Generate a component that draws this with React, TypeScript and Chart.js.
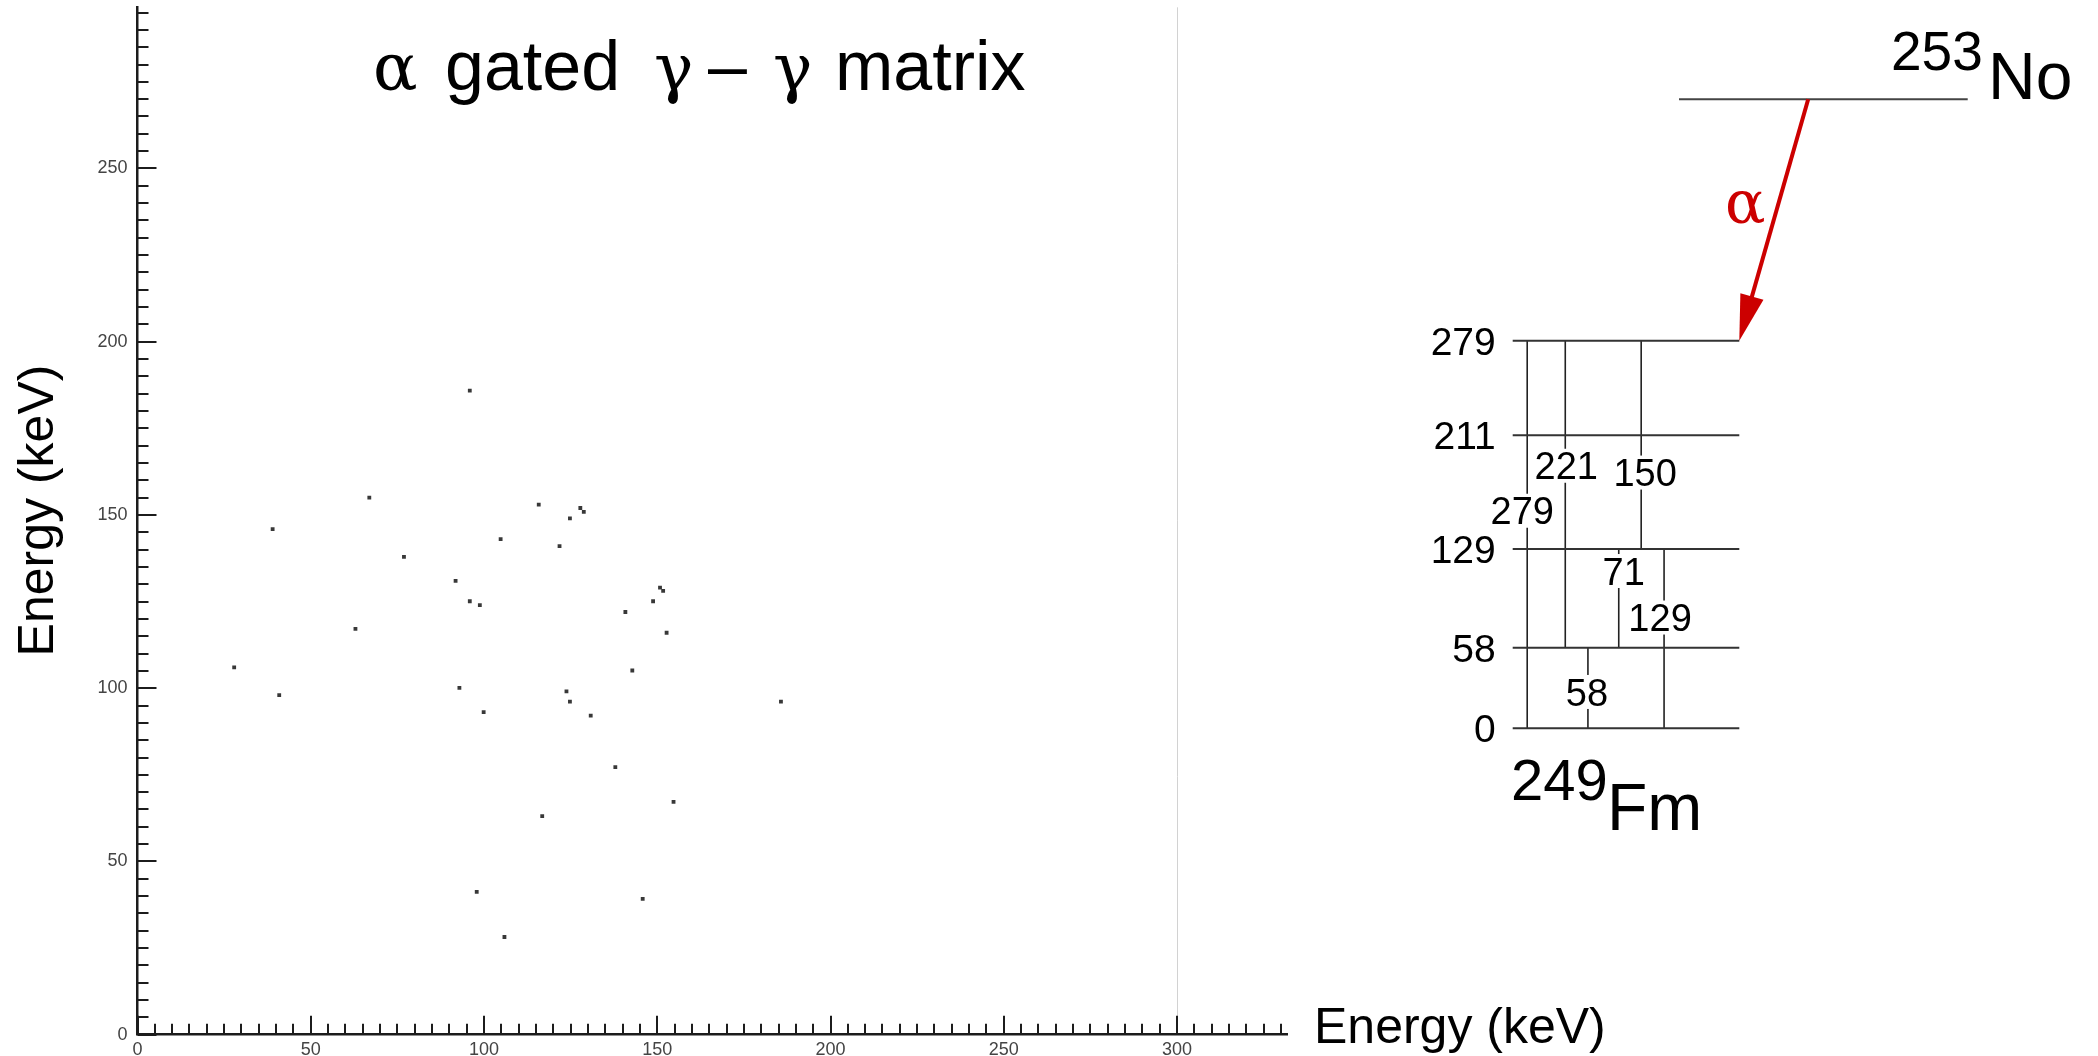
import React, { useEffect, useRef } from "react";
import { Chart, registerables } from "chart.js";

Chart.register(...registerables);

// ---------------- data ----------------
// alpha-gated gamma-gamma coincidences (keV)
const GAMMA_X_KEV = [
  95.9, 66.9, 115.8, 127.8, 128.8, 124.8, 104.8, 121.8, 76.9, 91.8, 95.9, 98.8,
  150.8, 151.7, 148.8, 140.8, 62.9, 152.7, 142.8, 92.9, 123.8, 124.8, 99.9, 130.8,
  185.7, 137.9, 154.7, 116.8, 97.9, 145.8, 105.9, 39.0, 27.9, 40.9,
];
const GAMMA_Y_KEV = [
  185.9, 155.0, 153.0, 152.0, 150.9, 149.0, 143.0, 141.0, 137.9, 131.0, 125.1, 124.0,
  129.0, 128.1, 125.1, 122.0, 117.1, 116.0, 105.1, 100.1, 99.1, 96.1, 93.1, 92.1,
  96.1, 77.2, 67.2, 63.1, 41.2, 39.2, 28.2, 145.9, 106.0, 98.0,
];

const X_TICK_LABELS = [0, 50, 100, 150, 200, 250, 300];
const Y_TICK_LABELS = [0, 50, 100, 150, 200, 250];
const MINOR_TICK_STEP = 5;
const X_LAST_TICK = 330;
const Y_LAST_TICK = 295;
const X_GRID_LINES = [300];

// level scheme of 249Fm (keV)
const LEVEL_ENERGIES = [0, 58, 129, 211, 279];
const TRANSITION_FROM = [279, 279, 58, 129, 279, 129];
const TRANSITION_TO = [0, 58, 0, 58, 129, 0];
const TRANSITION_ENERGIES = [279, 221, 58, 71, 150, 129];

const TITLE_PARTS = ["\u03b1", "gated", "\u03b3", "\u2013", "\u03b3", "matrix"];
const AXIS_TITLE = "Energy (keV)";
const PARENT_MASS = "253";
const PARENT_SYMBOL = "No";
const DAUGHTER_MASS = "249";
const DAUGHTER_SYMBOL = "Fm";
const DECAY_LABEL = "\u03b1";

// ---------------- layout ----------------
const CANVAS_W = 2098;
const CANVAS_H = 1056;
const PLOT_LEFT = 137.5;
const PLOT_BOTTOM = 1034.7;
const PX_PER_KEV = 3.465;
const X_MAX = 332;
const Y_MAX = 296.5;
const PLOT_RIGHT = PLOT_LEFT + X_MAX * PX_PER_KEV;
const PLOT_TOP = PLOT_BOTTOM - Y_MAX * PX_PER_KEV;

// scheme coordinates: horizontal units 0..100 across a level line
const SCHEME_LEFT = 1512.7;
const SCHEME_RIGHT = 1739.3;
const SCHEME_UNIT = (SCHEME_RIGHT - SCHEME_LEFT) / 100;
const SCHEME_Y0 = 728.2;
const SCHEME_PX_PER_KEV = 1.3886;

const TRANSITION_COLUMNS = [6.4, 23.2, 33.2, 46.8, 56.7, 66.8];
const TRANSITION_LABEL_AT = [156.6, 189.0, 26.1, 113.2, 184.1, 79.7];
const TRANSITION_LABEL_DX = [-5, 1, -1, 5, 4, -4];
const PARENT_LEVEL_POS = 452.9;
const PARENT_LINE_FROM = 73.4;
const PARENT_LINE_TO = 200.8;
const ALPHA_START = 130.4;

const SANS = "'Liberation Sans', Arial, sans-serif";
const SERIF = "'Liberation Serif', 'Times New Roman', serif";
const GREEK = "'DejaVu Serif', 'Liberation Serif', serif";
const AXIS_COLOR = "#1c1c1c";
const LINE_COLOR = "#333333";
const RED = "#cc0000";

function tickValues(last: number) {
  const out: { value: number }[] = [];
  for (let v = 0; v <= last; v += MINOR_TICK_STEP) out.push({ value: v });
  return out;
}

function zeroPadding(s: any) {
  s.paddingTop = 0;
  s.paddingBottom = 0;
  s.paddingLeft = 0;
  s.paddingRight = 0;
}

const tickMarksPlugin = {
  id: "tickMarks",
  afterDraw(chart: any) {
    const { ctx, chartArea } = chart;
    const x = chart.scales.x;
    const y = chart.scales.y;
    ctx.save();
    ctx.strokeStyle = AXIS_COLOR;
    ctx.lineWidth = 2;
    ctx.beginPath();
    for (const t of x.ticks) {
      const px = Math.round(x.getPixelForValue(t.value));
      const len = X_TICK_LABELS.includes(t.value) ? 19 : 11;
      ctx.moveTo(px, chartArea.bottom);
      ctx.lineTo(px, chartArea.bottom - len);
    }
    for (const t of y.ticks) {
      const py = Math.round(y.getPixelForValue(t.value));
      const len = Y_TICK_LABELS.includes(t.value) ? 19 : 11;
      ctx.moveTo(chartArea.left, py);
      ctx.lineTo(chartArea.left + len, py);
    }
    ctx.stroke();
    ctx.restore();
  },
};

const textPlugin = {
  id: "texts",
  afterDraw(chart: any) {
    const { ctx } = chart;
    const xs = chart.scales.xs;
    const ys = chart.scales.ys;
    ctx.save();
    ctx.fillStyle = "#000";
    ctx.textBaseline = "alphabetic";
    ctx.textAlign = "left";

    // title
    const titleBase = 89.6;
    const titleX = [373, 445, 654, 708, 773, 835];
    const titleGreek = [true, false, true, false, true, false];
    TITLE_PARTS.forEach((p, i) => {
      ctx.font = titleGreek[i] ? `66px ${GREEK}` : `70px ${SANS}`;
      ctx.fillText(p, titleX[i], titleBase);
    });

    // axis titles
    ctx.font = `50px ${SANS}`;
    ctx.fillText(AXIS_TITLE, 1314, 1043);
    ctx.save();
    ctx.translate(53, 510.5);
    ctx.rotate(-Math.PI / 2);
    ctx.textAlign = "center";
    ctx.fillText(AXIS_TITLE, 0, 0);
    ctx.restore();

    // level energies
    ctx.font = `39px ${SANS}`;
    ctx.textAlign = "right";
    LEVEL_ENERGIES.forEach((e) => {
      ctx.fillText(String(e), SCHEME_LEFT - 17, ys.getPixelForValue(e) + 14);
    });

    // transition labels (white boxes interrupting the lines)
    ctx.font = `38px ${SANS}`;
    ctx.textAlign = "center";
    TRANSITION_ENERGIES.forEach((e, i) => {
      const cx = xs.getPixelForValue(TRANSITION_COLUMNS[i]) + TRANSITION_LABEL_DX[i];
      const cy = ys.getPixelForValue(TRANSITION_LABEL_AT[i]);
      const w = ctx.measureText(String(e)).width;
      ctx.fillStyle = "#fff";
      ctx.fillRect(cx - w / 2 - 2, cy - 17, w + 4, 34);
      ctx.fillStyle = "#000";
      ctx.fillText(String(e), cx, cy + 13.6);
    });

    // parent level
    const py = ys.getPixelForValue(PARENT_LEVEL_POS);
    ctx.strokeStyle = "#444";
    ctx.lineWidth = 2;
    ctx.beginPath();
    ctx.moveTo(xs.getPixelForValue(PARENT_LINE_FROM), py);
    ctx.lineTo(xs.getPixelForValue(PARENT_LINE_TO), py);
    ctx.stroke();

    // alpha arrow
    const ax0 = xs.getPixelForValue(ALPHA_START);
    const ay0 = py;
    const ax1 = xs.getPixelForValue(100);
    const ay1 = ys.getPixelForValue(LEVEL_ENERGIES[LEVEL_ENERGIES.length - 1]);
    const dx = ax1 - ax0;
    const dy = ay1 - ay0;
    const L = Math.hypot(dx, dy);
    const ux = dx / L;
    const uy = dy / L;
    const headLen = 46;
    const headHalf = 12;
    const bx = ax1 - ux * headLen;
    const by = ay1 - uy * headLen;
    ctx.strokeStyle = RED;
    ctx.lineWidth = 4;
    ctx.beginPath();
    ctx.moveTo(ax0, ay0);
    ctx.lineTo(bx + ux * 4, by + uy * 4);
    ctx.stroke();
    ctx.fillStyle = RED;
    ctx.beginPath();
    ctx.moveTo(ax1, ay1);
    ctx.lineTo(bx - uy * headHalf, by + ux * headHalf);
    ctx.lineTo(bx + uy * headHalf, by - ux * headHalf);
    ctx.closePath();
    ctx.fill();
    ctx.textAlign = "left";
    ctx.font = `60px ${GREEK}`;
    ctx.fillText(DECAY_LABEL, 1725, 223);

    // nuclide labels
    ctx.fillStyle = "#000";
    ctx.font = `55px ${SANS}`;
    ctx.fillText(PARENT_MASS, 1891, 70);
    ctx.font = `66px ${SANS}`;
    ctx.fillText(PARENT_SYMBOL, 1988, 99);
    ctx.font = `58px ${SANS}`;
    ctx.fillText(DAUGHTER_MASS, 1511, 800);
    ctx.font = `66px ${SANS}`;
    ctx.fillText(DAUGHTER_SYMBOL, 1607, 829.6);

    ctx.restore();
  },
};

export default function App() {
  const canvasRef = useRef<HTMLCanvasElement | null>(null);

  useEffect(() => {
    const canvas = canvasRef.current;
    if (!canvas) return;

    const levelData: any[] = [];
    LEVEL_ENERGIES.forEach((e) => {
      levelData.push({ x: 0, y: e }, { x: 100, y: e }, { x: 100, y: null });
    });
    const transData: any[] = [];
    TRANSITION_FROM.forEach((from, i) => {
      const c = TRANSITION_COLUMNS[i];
      transData.push({ x: c, y: from }, { x: c, y: TRANSITION_TO[i] }, { x: c, y: null });
    });

    const chart = new Chart(canvas, {
      type: "scatter",
      data: {
        datasets: [
          {
            type: "scatter",
            label: "coincidences",
            data: GAMMA_X_KEV.map((x, i) => ({ x, y: GAMMA_Y_KEV[i] })),
            xAxisID: "x",
            yAxisID: "y",
            pointStyle: "rect",
            pointRadius: 2.7,
            pointHoverRadius: 2.7,
            pointBackgroundColor: "#383838",
            pointBorderWidth: 0,
          } as any,
          {
            type: "line",
            label: "levels",
            data: levelData,
            xAxisID: "xs",
            yAxisID: "ys",
            borderColor: LINE_COLOR,
            borderWidth: 2,
            pointRadius: 0,
            spanGaps: false,
            clip: false,
            tension: 0,
          } as any,
          {
            type: "line",
            label: "transitions",
            data: transData,
            xAxisID: "xs",
            yAxisID: "ys",
            borderColor: "#222",
            borderWidth: 1.6,
            pointRadius: 0,
            spanGaps: false,
            clip: false,
            tension: 0,
          } as any,
        ],
      },
      options: {
        responsive: false,
        animation: false,
        events: [],
        layout: {
          padding: { top: PLOT_TOP, right: CANVAS_W - PLOT_RIGHT, left: 0, bottom: 0 },
        },
        plugins: {
          legend: { display: false },
          tooltip: { enabled: false },
          title: { display: false },
        },
        scales: {
          x: {
            type: "linear",
            position: "bottom",
            min: 0,
            max: X_MAX,
            bounds: "data",
            afterBuildTicks: (s: any) => {
              s.ticks = tickValues(X_LAST_TICK);
            },
            afterFit: (s: any) => {
              s.height = CANVAS_H - PLOT_BOTTOM;
              zeroPadding(s);
            },
            grid: {
              display: true,
              drawOnChartArea: true,
              drawTicks: false,
              lineWidth: 1,
              color: (c: any) =>
                c.tick && X_GRID_LINES.includes(c.tick.value) ? "#d2d2d2" : "rgba(0,0,0,0)",
            },
            border: { display: true, color: AXIS_COLOR, width: 2.5 },
            ticks: {
              autoSkip: false,
              maxRotation: 0,
              minRotation: 0,
              padding: 5,
              color: "#444",
              font: { family: SANS, size: 18 },
              callback: (v: any) => (X_TICK_LABELS.includes(v) ? String(v) : ""),
            },
          },
          y: {
            type: "linear",
            position: "left",
            min: 0,
            max: Y_MAX,
            bounds: "data",
            afterBuildTicks: (s: any) => {
              s.ticks = tickValues(Y_LAST_TICK);
            },
            afterFit: (s: any) => {
              s.width = PLOT_LEFT;
              zeroPadding(s);
            },
            grid: { display: false, drawTicks: false },
            border: { display: true, color: AXIS_COLOR, width: 2.5 },
            ticks: {
              autoSkip: false,
              padding: 10,
              color: "#444",
              font: { family: SANS, size: 18 },
              callback: (v: any) => (Y_TICK_LABELS.includes(v) ? String(v) : ""),
            },
          },
          xs: {
            type: "linear",
            display: false,
            bounds: "data",
            afterDataLimits: (s: any) => {
              s.min = (PLOT_LEFT - SCHEME_LEFT) / SCHEME_UNIT;
              s.max = (PLOT_RIGHT - SCHEME_LEFT) / SCHEME_UNIT;
            },
          },
          ys: {
            type: "linear",
            display: false,
            position: "left",
            bounds: "data",
            afterDataLimits: (s: any) => {
              s.min = (SCHEME_Y0 - PLOT_BOTTOM) / SCHEME_PX_PER_KEV;
              s.max = (SCHEME_Y0 - PLOT_TOP) / SCHEME_PX_PER_KEV;
            },
          },
        } as any,
      },
      plugins: [tickMarksPlugin, textPlugin],
    } as any);

    return () => chart.destroy();
  }, []);

  return (
    <div
      style={{
        position: "fixed",
        left: 0,
        top: 0,
        width: CANVAS_W,
        height: CANVAS_H,
        background: "#fff",
      }}
    >
      <canvas ref={canvasRef} width={CANVAS_W} height={CANVAS_H} style={{ display: "block" }} />
    </div>
  );
}
